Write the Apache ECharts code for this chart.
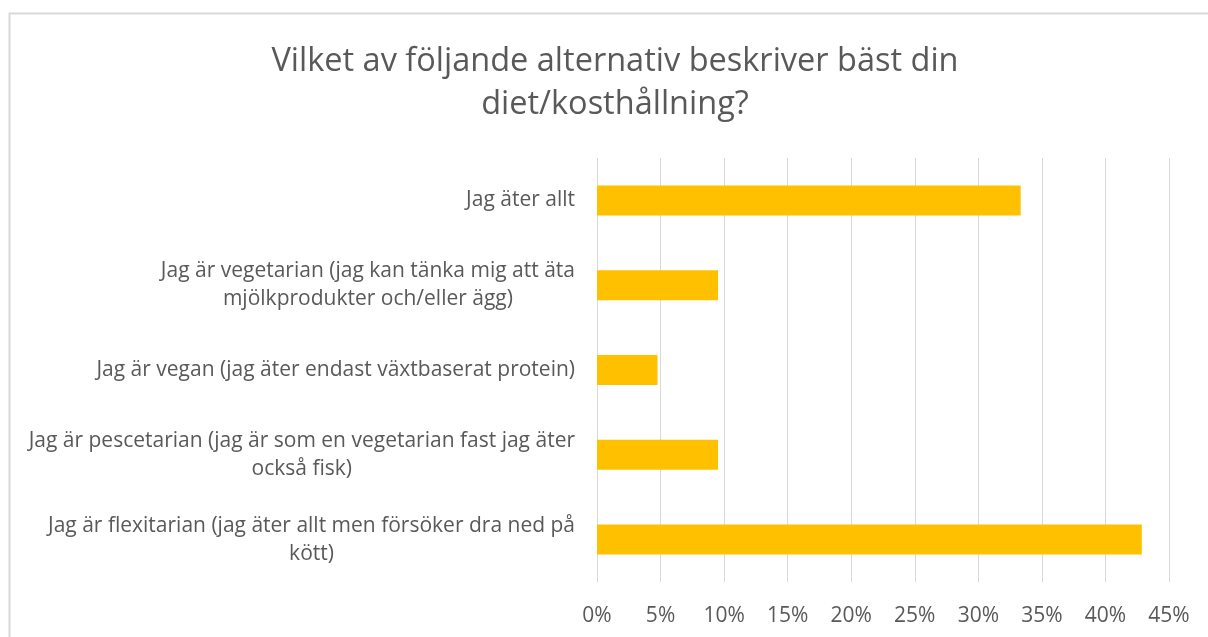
<!DOCTYPE html>
<html>
<head>
<meta charset="utf-8">
<script src="https://cdn.jsdelivr.net/npm/echarts@6/dist/echarts.min.js"></script>
<style>
  html, body { margin: 0; padding: 0; background: #ffffff; }
  #chart { width: 1208px; height: 637px; }
</style>
</head>
<body>
<div id="chart"></div>
<script>
// Survey answers, top to bottom, and the share choosing each (percent)
const categories = [
  'Jag äter allt',
  'Jag är vegetarian (jag kan tänka mig att äta\nmjölkprodukter och/eller ägg)',
  'Jag är vegan (jag äter endast växtbaserat protein)',
  'Jag är pescetarian (jag är som en vegetarian fast jag äter\nockså fisk)',
  'Jag är flexitarian (jag äter allt men försöker dra ned på\nkött)'
];
const shares = [33.33, 9.52, 4.76, 9.52, 42.86];
const axisMin = 0;
const axisMax = 45;
const axisStep = 5;

const FONT = '"Open Sans", "Noto Sans", sans-serif';
const TEXT = '#595959';

const chart = echarts.init(document.getElementById('chart'), null, { renderer: 'canvas' });

chart.setOption({
  backgroundColor: '#ffffff',
  animation: false,
  title: {
    text: 'Vilket av följande alternativ beskriver bäst din\ndiet/kosthållning?',
    left: 610,
    top: 35,
    textAlign: 'center',
    textStyle: {
      fontFamily: FONT,
      fontWeight: 'normal',
      fontSize: 32.5,
      lineHeight: 43,
      color: TEXT
    }
  },
  graphic: [{
    type: 'rect',
    silent: true,
    shape: { x: 9.5, y: 13.5, width: 1215, height: 640 },
    style: { fill: 'none', stroke: '#d9d9d9', lineWidth: 2 }
  }],
  grid: {
    left: 597,
    right: 39,
    top: 158,
    bottom: 55,
    containLabel: false
  },
  xAxis: {
    type: 'value',
    min: axisMin,
    max: axisMax,
    interval: axisStep,
    axisLine: { show: false },
    axisTick: { show: false },
    splitLine: { show: true, lineStyle: { color: '#d9d9d9', width: 1 } },
    axisLabel: {
      formatter: '{value}%',
      margin: 24,
      fontFamily: FONT,
      fontSize: 21,
      color: TEXT
    }
  },
  yAxis: {
    type: 'category',
    inverse: true,
    data: categories,
    axisLine: { show: false },
    axisTick: { show: false },
    splitLine: { show: false },
    axisLabel: {
      align: 'right',
      margin: 22,
      fontFamily: FONT,
      fontSize: 21,
      lineHeight: 28,
      color: TEXT,
      // block stays right-aligned to the axis, each line is centred inside it
      formatter: function (v) {
        return v.split('\n').map(function (l) { return '{c|' + l + '}'; }).join('\n');
      },
      rich: {
        c: {
          align: 'center',
          fontFamily: FONT,
          fontSize: 21,
          lineHeight: 28,
          color: TEXT
        }
      }
    }
  },
  series: [{
    type: 'bar',
    data: shares,
    barWidth: 30,
    itemStyle: { color: '#FFC000' },
    label: { show: false }
  }]
});
</script>
</body>
</html>
